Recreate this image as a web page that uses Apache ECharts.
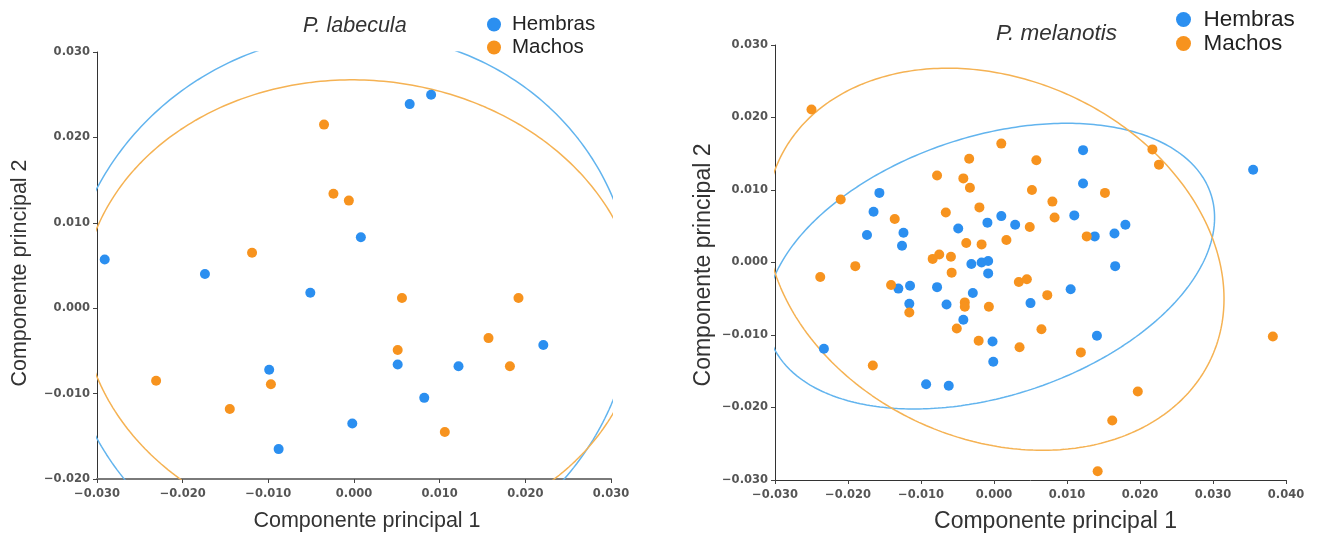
<!DOCTYPE html>
<html>
<head>
<meta charset="utf-8">
<script src="https://cdn.jsdelivr.net/npm/echarts@6/dist/echarts.min.js"></script>
<style>
html,body{margin:0;padding:0;background:#fff;}
#chart{width:1324px;height:538px;}
</style>
</head>
<body>
<div id="chart"></div>
<script>
// ---------- P. labecula ----------
const labHembrasX = [0.0065, 0.0090, 0.0008, -0.0291, -0.0174, -0.0051, -0.0099, 0.0051, 0.0122, 0.0221, 0.0082, -0.0002, -0.0088];
const labHembrasY = [0.0239, 0.0250, 0.0083, 0.0057, 0.0040, 0.0018, -0.0072, -0.0066, -0.0068, -0.0043, -0.0105, -0.0135, -0.0165];
const labMachosX = [-0.0035, -0.0024, -0.0006, -0.0119, 0.0056, 0.0192, 0.0157, 0.0051, 0.0182, -0.0231, -0.0097, -0.0145, 0.0106];
const labMachosY = [0.0215, 0.0134, 0.0126, 0.0065, 0.0012, 0.0012, -0.0035, -0.0049, -0.0068, -0.0085, -0.0089, -0.0118, -0.0145];
// ellipse parameters: [centre x, centre y, semi-axis a, semi-axis b, rotation (deg)]
const labHembrasEllipse = [-0.00055, 0.0002, 0.0333, 0.0318, 19];
const labMachosEllipse = [0.0008, -0.0001, 0.0326, 0.0268, -4.5];

// ---------- P. melanotis ----------
const melHembrasX = [0.0122, 0.0122, 0.0355, -0.0157, -0.0165, -0.0174, -0.0124, -0.0126, -0.0049, -0.0009, 0.0010, 0.0029, 0.0110, 0.0180, 0.0138, 0.0165, 0.0166, -0.0031, -0.0017, -0.0008, -0.0008, -0.0131, -0.0115, -0.0078, -0.0029, 0.0105, -0.0116, -0.0065, 0.0050, -0.0042, -0.0002, 0.0141, -0.0233, -0.0001, -0.0093, -0.0062];
const melHembrasY = [0.0155, 0.0109, 0.0128, 0.0096, 0.0070, 0.0038, 0.0041, 0.0023, 0.0047, 0.0055, 0.0064, 0.0052, 0.0065, 0.0052, 0.0036, 0.0040, -0.0005, -0.0002, 0.0000, 0.0002, -0.0015, -0.0036, -0.0032, -0.0034, -0.0042, -0.0037, -0.0057, -0.0058, -0.0056, -0.0079, -0.0109, -0.0101, -0.0119, -0.0137, -0.0168, -0.0170];
const melMachosX = [-0.0250, -0.0210, 0.0217, 0.0226, 0.0010, -0.0034, 0.0058, -0.0078, -0.0042, -0.0033, 0.0052, 0.0152, 0.0080, -0.0020, -0.0066, 0.0083, -0.0136, 0.0049, 0.0017, 0.0127, -0.0038, -0.0017, -0.0075, -0.0084, -0.0059, -0.0190, -0.0238, -0.0058, -0.0141, 0.0034, 0.0045, 0.0073, -0.0040, -0.0040, -0.0007, -0.0116, -0.0051, 0.0065, -0.0021, 0.0035, 0.0119, -0.0166, 0.0197, 0.0162, 0.0142, 0.0382];
const melMachosY = [0.0211, 0.0087, 0.0156, 0.0135, 0.0164, 0.0143, 0.0141, 0.0120, 0.0116, 0.0103, 0.0100, 0.0096, 0.0084, 0.0076, 0.0069, 0.0062, 0.0060, 0.0049, 0.0031, 0.0036, 0.0027, 0.0025, 0.0011, 0.0005, 0.0008, -0.0005, -0.0020, -0.0014, -0.0031, -0.0027, -0.0023, -0.0045, -0.0055, -0.0061, -0.0061, -0.0069, -0.0091, -0.0092, -0.0108, -0.0117, -0.0124, -0.0142, -0.0178, -0.0218, -0.0288, -0.0102];
const melHembrasEllipse = [-0.0005, -0.0005, 0.0318, 0.0179, 18.25];
const melMachosEllipse = [0.00015, 0.00045, 0.0326, 0.0248, -24.9];

// ---------- texts ----------
const titles = ['P. labecula', 'P. melanotis'];
const groupNames = ['Hembras', 'Machos'];
const axisNameX = 'Componente principal 1';
const axisNameY = 'Componente principal 2';

const COL_H = '#2b8ff0', COL_M = '#f7931e';
const COL_HE = '#62b4ee', COL_ME = '#f5b253';

function pairs(xs, ys) { return xs.map((x, i) => [x, ys[i]]); }
function ellipse(p) {
  const [cx, cy, a, b, deg] = p;
  const th = deg * Math.PI / 180, c = Math.cos(th), s = Math.sin(th);
  const pts = [];
  for (let i = 0; i <= 360; i++) {
    const t = i * Math.PI / 180;
    pts.push([cx + a * c * Math.cos(t) - b * s * Math.sin(t), cy + a * s * Math.cos(t) + b * c * Math.sin(t)]);
  }
  return pts;
}
function fmt(v) {
  if (Math.abs(v) < 1e-9) return '0.000';
  return (v < 0 ? '\u2212' : '') + Math.abs(v).toFixed(3);
}
const tickLabel = { fontFamily: 'DejaVu Sans', fontSize: 11.5, fontWeight: 'bold', color: '#555', formatter: fmt };

function xAxis(idx, min, max, lineColor, lineWidth, nameSize, gap, pad) {
  return {
    type: 'value', gridIndex: idx, min: min, max: max, interval: 0.01,
    name: axisNameX, nameLocation: 'middle', nameGap: gap,
    nameTextStyle: { fontFamily: 'Liberation Sans', fontSize: nameSize, color: '#333', padding: pad },
    axisLine: { show: true, onZero: false, lineStyle: { color: lineColor, width: lineWidth } },
    axisTick: { show: true, length: 4, lineStyle: { color: '#444' } },
    axisLabel: Object.assign({ margin: 9 }, tickLabel),
    splitLine: { show: false }
  };
}
function yAxis(idx, min, max, nameSize, gap, pad) {
  return {
    type: 'value', gridIndex: idx, min: min, max: max, interval: 0.01,
    name: axisNameY, nameLocation: 'middle', nameGap: gap,
    nameTextStyle: { fontFamily: 'Liberation Sans', fontSize: nameSize, color: '#333', padding: pad },
    axisLine: { show: true, onZero: false, lineStyle: { color: '#333', width: 1 } },
    axisTick: { show: true, length: 4, lineStyle: { color: '#444' } },
    axisLabel: Object.assign({ margin: 7 }, tickLabel),
    splitLine: { show: false }
  };
}
function scatter(name, idx, data, color) {
  return { type: 'scatter', name: name, xAxisIndex: idx, yAxisIndex: idx, data: data,
    symbolSize: 10, itemStyle: { color: color, opacity: 1 }, z: 3 };
}
function ell(name, idx, p, color) {
  return { type: 'line', name: name, xAxisIndex: idx, yAxisIndex: idx, data: ellipse(p),
    showSymbol: false, clip: true, silent: true, smooth: false,
    lineStyle: { color: color, width: 1.5 }, z: 2 };
}

const chart = echarts.init(document.getElementById('chart'), null, { renderer: 'canvas' });
chart.setOption({
  backgroundColor: '#fff',
  animation: false,
  title: [
    { text: titles[0], left: 298, top: 10, textStyle: { fontFamily: 'Liberation Sans', fontSize: 21.5, fontStyle: 'italic', fontWeight: 'normal', color: '#333' } },
    { text: titles[1], left: 991, top: 17, textStyle: { fontFamily: 'Liberation Sans', fontSize: 22.5, fontStyle: 'italic', fontWeight: 'normal', color: '#333' } }
  ],
  legend: [
    { data: groupNames, orient: 'vertical', left: 482, top: 9, icon: 'circle', itemWidth: 26, itemHeight: 14, itemGap: 2,
      textStyle: { fontFamily: 'Liberation Sans', fontSize: 20.5, color: '#222', lineHeight: 20 } },
    { data: groupNames, orient: 'vertical', left: 1171, top: 3, icon: 'circle', itemWidth: 30, itemHeight: 15, itemGap: 1,
      textStyle: { fontFamily: 'Liberation Sans', fontSize: 22.5, color: '#222', lineHeight: 21 } }
  ],
  grid: [
    { left: 97, right: 713, top: 52, bottom: 59 },
    { left: 775, right: 38, top: 45, bottom: 56 }
  ],
  xAxis: [
    xAxis(0, -0.03, 0.03, '#7a7a7a', 2, 21.5, 31, [0, 0, 0, 26]),
    xAxis(1, -0.03, 0.04, '#333', 1, 23, 30, [0, 0, 0, 50])
  ],
  yAxis: [
    yAxis(0, -0.02, 0.03, 21.5, 66, [0, 15, 0, 0]),
    yAxis(1, -0.03, 0.03, 23, 60, [0, 5, 0, 0])
  ],
  series: [
    ell('Hembras elipse', 0, labHembrasEllipse, COL_HE),
    ell('Machos elipse', 0, labMachosEllipse, COL_ME),
    scatter(groupNames[0], 0, pairs(labHembrasX, labHembrasY), COL_H),
    scatter(groupNames[1], 0, pairs(labMachosX, labMachosY), COL_M),
    ell('Hembras elipse', 1, melHembrasEllipse, COL_HE),
    ell('Machos elipse', 1, melMachosEllipse, COL_ME),
    scatter(groupNames[0], 1, pairs(melHembrasX, melHembrasY), COL_H),
    scatter(groupNames[1], 1, pairs(melMachosX, melMachosY), COL_M)
  ]
});
</script>
</body>
</html>
